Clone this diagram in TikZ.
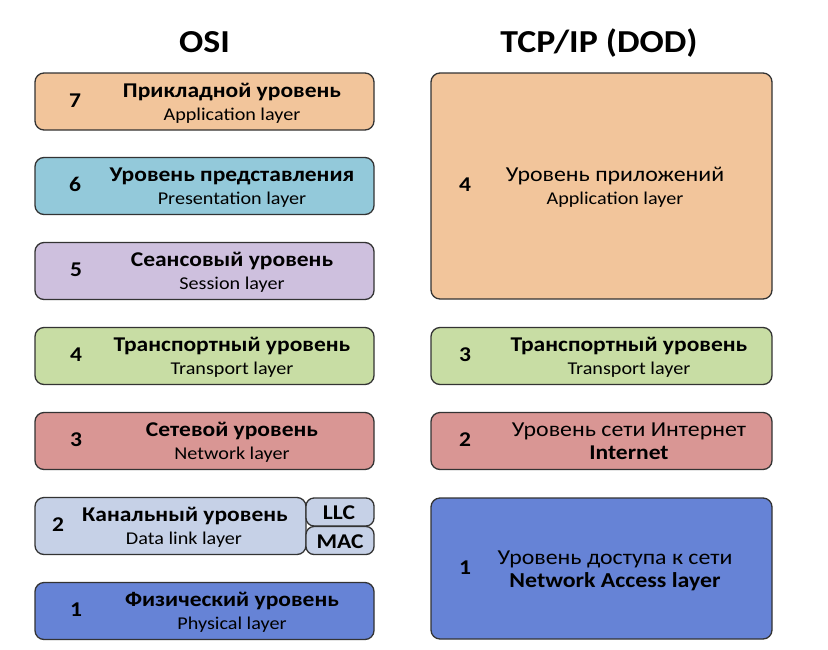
\documentclass[tikz,border=0pt]{standalone}
\usepackage{fontspec}
\setmainfont{Carlito}[FakeStretch=1.12]
\definecolor{bordc}{HTML}{333333}
\definecolor{c7}{HTML}{F2C59B}
\definecolor{c6}{HTML}{93C9DA}
\definecolor{c5}{HTML}{CEC0DE}
\definecolor{c4}{HTML}{C8DDA4}
\definecolor{c3}{HTML}{D99694}
\definecolor{c2}{HTML}{C6D1E7}
\definecolor{c1}{HTML}{6683D6}
\tikzset{
  layer/.style={draw=bordc, line width=1.3pt, rounded corners=9pt, inner sep=0pt},
  num/.style={anchor=base, font=\fontsize{21}{24}\selectfont\bfseries, inner sep=0pt},
  ttl/.style={anchor=base, font=\fontsize{21}{24}\selectfont\bfseries, inner sep=0pt},
  ttln/.style={anchor=base, font=\fontsize{21.3}{24}\selectfont, inner sep=0pt},
  sub/.style={anchor=base, font=\fontsize{18}{21}\selectfont, inner sep=0pt},
  hdr/.style={anchor=base, font=\fontsize{32}{36}\selectfont\bfseries, inner sep=0pt},
  tag/.style={anchor=base, font=\fontsize{21}{24}\selectfont\bfseries, inner sep=0pt},
}
\begin{document}
\begin{tikzpicture}[x=1pt,y=-1pt]
\fill[white] (0,0) rectangle (828,649);
\useasboundingbox (0,0) rectangle (828,649);
% headers
\node[hdr] (hosi) at (204.5,52) {OSI};
\node[hdr] (htcp) at (599,52) {TCP/IP (DOD)};
% OSI column
\node[layer, fill=c7, minimum width=339pt, minimum height=57pt] (b7) at (204.5,101.5) {};
\node[num] (n7) at (75,107) {7};
\node[ttl] (t7) at (232,97) {Прикладной уровень};
\node[sub] (s7) at (232,120) {Application layer};

\node[layer, fill=c6, minimum width=339pt, minimum height=57pt] (b6) at (204.5,186) {};
\node[num] (n6) at (75,191.5) {6};
\node[ttl] (t6) at (232,181.5) {Уровень представления};
\node[sub] (s6) at (232,204.5) {Presentation layer};

\node[layer, fill=c5, minimum width=339pt, minimum height=57pt] (b5) at (204.5,271) {};
\node[num] (n5) at (76,276.5) {5};
\node[ttl] (t5) at (232,266.5) {Сеансовый уровень};
\node[sub] (s5) at (232,289.5) {Session layer};

\node[layer, fill=c4, minimum width=339pt, minimum height=57pt] (b4) at (204.5,356) {};
\node[num] (n4) at (76,361.5) {4};
\node[ttl] (t4) at (232,351.5) {Транспортный уровень};
\node[sub] (s4) at (232,374.5) {Transport layer};

\node[layer, fill=c3, minimum width=339pt, minimum height=57pt] (b3) at (204.5,441) {};
\node[num] (n3) at (76,446.5) {3};
\node[ttl] (t3) at (232,436.5) {Сетевой уровень};
\node[sub] (s3) at (232,459.5) {Network layer};

\node[layer, fill=c2, minimum width=271pt, minimum height=57pt] (b2) at (170.5,526) {};
\node[layer, fill=c2, rounded corners=8pt, minimum width=68pt, minimum height=28pt] (llc) at (340,512) {};
\node[layer, fill=c2, rounded corners=8pt, minimum width=68pt, minimum height=28pt] (mac) at (340,540.5) {};
\node[tag] (tllc) at (339,519) {LLC};
\node[tag] (tmac) at (340,548.5) {MAC};
\node[num] (n2) at (58,531.5) {2};
\node[ttl] (t2) at (185,521.5) {Канальный уровень};
\node[sub] (s2) at (184,544.5) {Data link layer};

\node[layer, fill=c1, minimum width=339pt, minimum height=57pt] (b1) at (204.5,611) {};
\node[num] (n1) at (76,616.5) {1};
\node[ttl] (t1) at (232,606.5) {Физический уровень};
\node[sub] (s1) at (232,629.5) {Physical layer};

% TCP/IP column
\node[layer, fill=c7, minimum width=341pt, minimum height=226pt] (r4) at (601.5,186) {};
\node[num] (m4) at (465,191.5) {4};
\node[ttln] (u4) at (615,181.5) {Уровень приложений};
\node[sub] (v4) at (615,204.5) {Application layer};

\node[layer, fill=c4, minimum width=341pt, minimum height=57pt] (r3) at (601.5,356) {};
\node[num] (m3) at (465,361.5) {3};
\node[ttl] (u3) at (629,351.5) {Транспортный уровень};
\node[sub] (v3) at (629,374.5) {Transport layer};

\node[layer, fill=c3, minimum width=341pt, minimum height=57pt] (r2) at (601.5,441) {};
\node[num] (m2) at (465,446.5) {2};
\node[ttln] (u2) at (629,436.5) {Уровень сети Интернет};
\node[ttl] (v2) at (629,459.5) {Internet};

\node[layer, fill=c1, minimum width=341pt, minimum height=141pt] (r1) at (601.5,568.5) {};
\node[num] (m1) at (465,574) {1};
\node[ttln] (u1) at (615,564) {Уровень доступа к сети};
\node[ttl, font=\fontsize{21.3}{24}\selectfont\bfseries] (v1) at (615,587.5) {Network Access layer};
\end{tikzpicture}
\end{document}
